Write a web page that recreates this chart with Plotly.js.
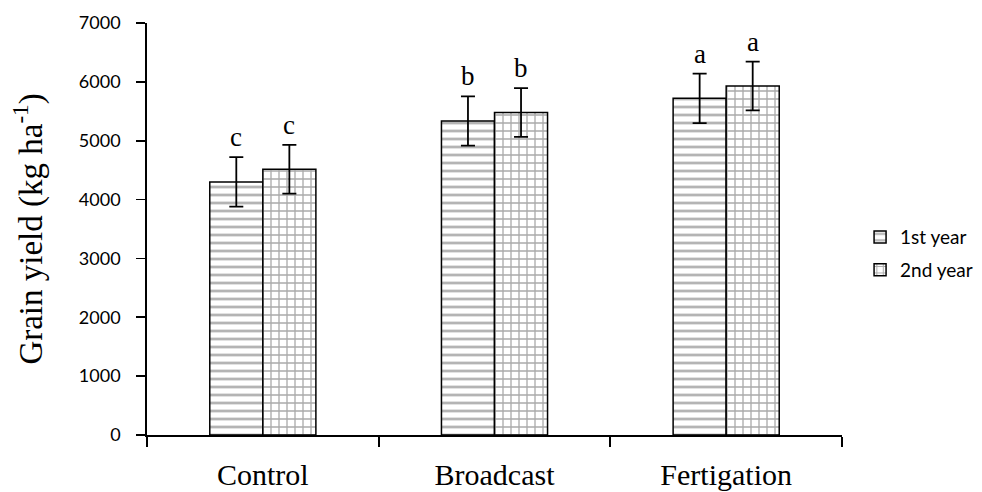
<!DOCTYPE html>
<html>
<head>
<meta charset="utf-8">
<script src="https://cdn.plot.ly/plotly-3.0.1.min.js"></script>
<style>body{margin:0;background:#fff}#chart{width:982px;height:492px}</style>
</head>
<body>
<div id="chart"></div>
<script>
const categories = ["Control", "Broadcast", "Fertigation"];
const year1 = [4300, 5335, 5720];
const year2 = [4515, 5480, 5930];
const err1 = [420, 420, 420];
const err2 = [415, 415, 415];
const letters1 = ["c", "b", "a"];
const letters2 = ["c", "b", "a"];
const yTicks = [0, 1000, 2000, 3000, 4000, 5000, 6000, 7000];

const barLine = {color: "#000", width: 1.5};
const traces = [
  {
    type: "bar", name: "1st year", x: categories, y: year1, legendgroup: "g1",
    error_y: {type: "data", array: err1, visible: true, color: "#000", thickness: 1.8, width: 7},
    marker: {color: "#fff", line: barLine,
      pattern: {shape: "-", size: 8, solidity: 0.35, fgcolor: "#6a6a6a", bgcolor: "#fff", fillmode: "overlay"}}
  },
  {
    type: "bar", name: "2nd year", x: categories, y: year2, legendgroup: "g2",
    error_y: {type: "data", array: err2, visible: true, color: "#000", thickness: 1.8, width: 7},
    marker: {color: "#fff", line: barLine,
      pattern: {shape: "+", size: 8, solidity: 0.3, fgcolor: "#555", bgcolor: "#fff", fillmode: "overlay"}}
  }
];

const annotations = [];
categories.forEach((c, i) => {
  annotations.push({x: c, y: year1[i] + err1[i], xref: "x", yref: "y", text: letters1[i], showarrow: false,
    xshift: -26.5, yanchor: "bottom", yshift: 3, font: {family: "Liberation Serif", size: 27, color: "#000"}});
  annotations.push({x: c, y: year2[i] + err2[i], xref: "x", yref: "y", text: letters2[i], showarrow: false,
    xshift: 26.5, yanchor: "bottom", yshift: 3, font: {family: "Liberation Serif", size: 27, color: "#000"}});
});

const layout = {
  width: 982, height: 492,
  margin: {l: 147, r: 140, t: 23, b: 57, pad: 0, autoexpand: false},
  paper_bgcolor: "#fff", plot_bgcolor: "#fff",
  barmode: "group", bargap: 0.542, bargroupgap: 0,
  showlegend: true,
  legend: {x: 1.026, y: 0.44, xanchor: "left", yanchor: "middle", tracegroupgap: 5,
    font: {family: "Lato", size: 19, color: "#000"}, itemwidth: 30, traceorder: "grouped"},
  xaxis: {
    type: "category", tickson: "boundaries", ticks: "outside", ticklen: 10, tickcolor: "#000", tickwidth: 1.8,
    showline: true, linecolor: "#000", linewidth: 1.8, showgrid: false, zeroline: false,
    tickfont: {family: "Liberation Serif", size: 30, color: "#000"}, ticklabelstandoff: 12
  },
  yaxis: {
    range: [0, 7000], tickvals: yTicks, ticktext: yTicks.map(String), ticks: "outside", ticklen: 9,
    tickcolor: "#000", tickwidth: 1.8, showline: true, linecolor: "#000", linewidth: 1.8,
    showgrid: false, zeroline: false, ticklabelstandoff: 12,
    tickfont: {family: "Lato", size: 18, color: "#000"},
    title: {text: "Grain yield (kg ha<sup>-1</sup>)", font: {family: "Liberation Serif", size: 33, color: "#000"}, standoff: 26}
  },
  annotations: annotations
};

Plotly.newPlot("chart", traces, layout, {displayModeBar: false, staticPlot: true});
</script>
</body>
</html>
